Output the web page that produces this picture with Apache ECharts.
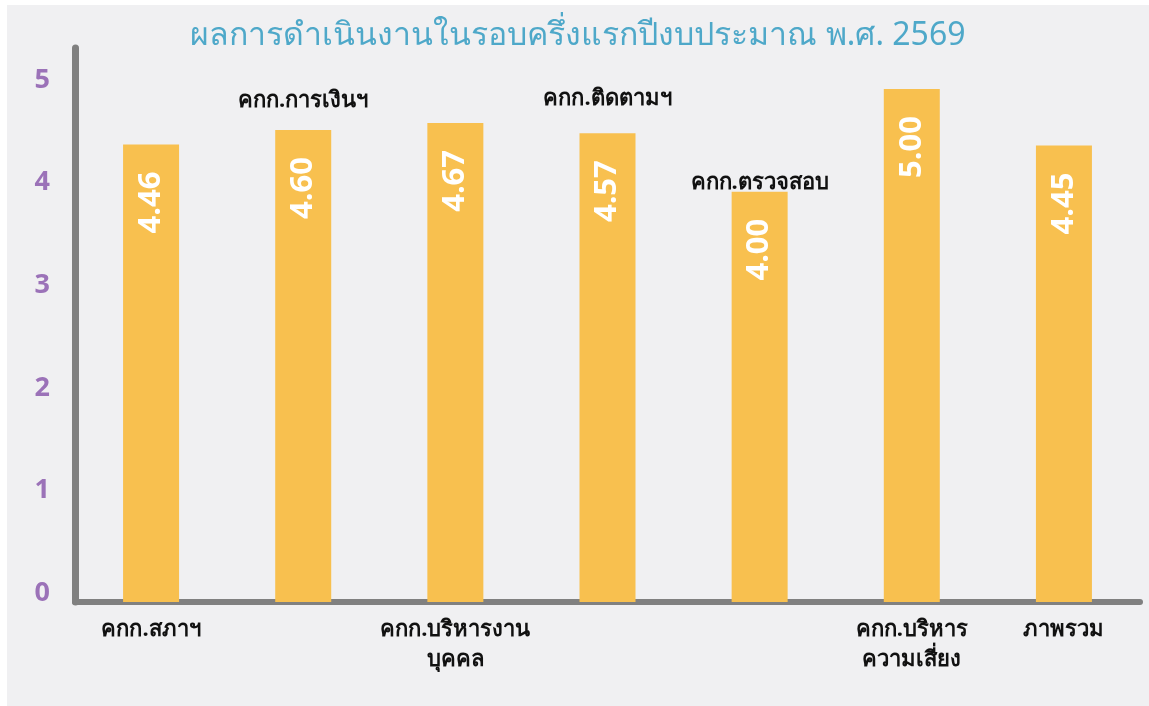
<!DOCTYPE html>
<html>
<head>
<meta charset="utf-8">
<script src="https://cdn.jsdelivr.net/npm/echarts@6/dist/echarts.min.js"></script>
<style>
    body { margin: 0; background: #ffffff; }
    #chart {
        position: absolute;
        left: 7px;
        top: 5px;
        width: 1142px;
        height: 701px;
        background: #f0f0f2;
    }
</style>
</head>
<body>
<div id="chart"></div>
<script>
    const titleText = 'ผลการดำเนินงานในรอบครึ่งแรกปีงบประมาณ พ.ศ. 2569'
    const categories = [
        'คกก.สภาฯ',
        'คกก.การเงินฯ',
        'คกก.บริหารงาน\nบุคคล',
        'คกก.ติดตามฯ',
        'คกก.ตรวจสอบ',
        'คกก.บริหาร\nความเสี่ยง',
        'ภาพรวม'
    ]
    const scores = [4.46, 4.60, 4.67, 4.57, 4.00, 5.00, 4.45]
    // these names are written above their bar instead of under the axis
    const namesAbove = ['คกก.การเงินฯ', 'คกก.ติดตามฯ', 'คกก.ตรวจสอบ']
    const yTicks = [0, 1, 2, 3, 4, 5]

    const font = '"Noto Sans", "DejaVu Sans", sans-serif'
    // gap between bar top and the name written above it
    const aboveGap = { 'คกก.การเงินฯ': 18, 'คกก.ติดตามฯ': 23, 'คกก.ตรวจสอบ': -2 }

    let myChart = echarts.init(document.getElementById('chart'))

    let option = {
        title: {
            text: titleText,
            left: 'center',
            top: 10,
            textStyle: {
                color: '#4ea8c9',
                fontSize: 32,
                fontWeight: 'normal',
                fontFamily: font
            }
        },
        grid: {
            left: 68,
            right: 9,
            top: 43,
            bottom: 104
        },
        xAxis: {
            type: 'category',
            data: categories,
            axisLine: {
                lineStyle: { color: '#808080', width: 6 }
            },
            axisTick: { show: false },
            axisLabel: {
                interval: 0,
                margin: 13,
                color: '#111111',
                fontSize: 22,
                fontWeight: 'bold',
                fontFamily: font,
                lineHeight: 30,
                formatter: function (name) {
                    return namesAbove.indexOf(name) >= 0 ? '' : name
                }
            }
        },
        yAxis: {
            type: 'value',
            min: yTicks[0],
            max: 5.4,
            interval: 1,
            axisLine: {
                show: true,
                lineStyle: { color: '#808080', width: 7 }
            },
            axisTick: { show: false },
            splitLine: { show: false },
            axisLabel: {
                showMaxLabel: false,
                margin: 25,
                color: '#9b72b8',
                fontSize: 27,
                fontWeight: 'bold',
                fontFamily: font,
                verticalAlign: 'bottom',
                lineHeight: 18
            }
        },
        series: [
            {
                type: 'bar',
                data: scores,
                barWidth: 56,
                itemStyle: { color: '#f8c04f' },
                label: {
                    show: true,
                    position: 'insideTop',
                    rotate: 90,
                    align: 'center',
                    verticalAlign: 'middle',
                    distance: 58,
                    color: '#ffffff',
                    fontSize: 31,
                    fontWeight: 'bold',
                    fontFamily: font,
                    formatter: function (p) {
                        return p.value.toFixed(2)
                    }
                },
                z: 2
            },
            {
                type: 'bar',
                data: scores.map(function (v, i) {
                    let name = categories[i]
                    return {
                        value: v,
                        label: { distance: aboveGap[name] || 0 }
                    }
                }),
                barWidth: 56,
                barGap: '-100%',
                itemStyle: { color: 'transparent' },
                silent: true,
                label: {
                    show: true,
                    position: 'top',
                    color: '#111111',
                    fontSize: 22,
                    fontWeight: 'bold',
                    fontFamily: font,
                    formatter: function (p) {
                        return namesAbove.indexOf(p.name) >= 0 ? p.name : ''
                    }
                },
                z: 1
            }
        ]
    }
    myChart.setOption(option)
</script>
</body>
</html>
